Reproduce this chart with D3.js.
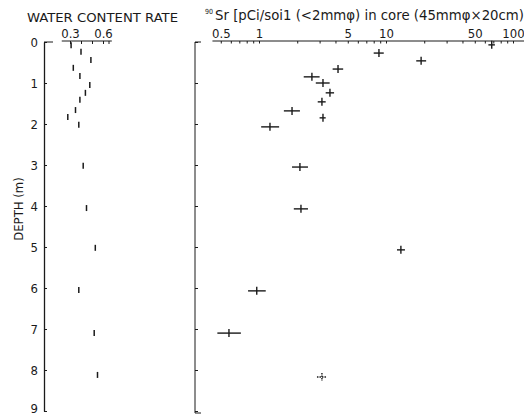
<!DOCTYPE html>
<html>
<head>
<meta charset="utf-8">
<script src="https://cdn.jsdelivr.net/npm/d3@7"></script>
<style>
  body { margin: 0; background: #fff; }
  svg text { font-family: "DejaVu Sans", sans-serif; font-stretch: condensed; fill: #1a1a1a; }
</style>
</head>
<body>
<div id="main"></div>
<script>
const WIDTH = 524, HEIGHT = 416

// water content rate by depth (m)
const waterDepth = [0.08, 0.24, 0.44, 0.63, 0.83, 1.05, 1.24, 1.41, 1.66, 1.83, 2.02, 3.02, 4.05, 5.02, 6.05, 7.1, 8.12]
const waterRate = [0.31, 0.40, 0.49, 0.33, 0.39, 0.48, 0.44, 0.39, 0.35, 0.28, 0.38, 0.42, 0.45, 0.53, 0.38, 0.52, 0.55]

// 90Sr in core (pCi/g soil), with the horizontal range of each cross
const srDepth = [0.07, 0.27, 0.46, 0.66, 0.85, 1.0, 1.24, 1.46, 1.68, 1.85, 2.07, 3.05, 4.07, 5.07, 6.07, 7.1, 8.17]
const srValue = [68, 8.8, 18.9, 4.19, 2.61, 3.19, 3.62, 3.13, 1.82, 3.19, 1.22, 2.10, 2.14, 13.1, 0.96, 0.58, 3.13]
const srLow = [64, 8.0, 17.3, 3.8, 2.25, 2.8, 3.35, 2.9, 1.57, 3.0, 1.04, 1.82, 1.88, 12.2, 0.82, 0.47, 2.86]
const srHigh = [72, 9.6, 20.7, 4.6, 3.0, 3.6, 3.9, 3.35, 2.1, 3.35, 1.44, 2.43, 2.43, 14.1, 1.13, 0.72, 3.43]

const depthTicks = [0, 1, 2, 3, 4, 5, 6, 7, 8, 9]
const waterTicks = [0.3, 0.6]
const waterMinor = [0.3, 0.4, 0.5, 0.6, 0.65]
const srTicks = [0.5, 1, 5, 10, 50, 100]

const svg = d3.select('#main').append('svg').attr('width', WIDTH).attr('height', HEIGHT)

const y = d3.scaleLinear().domain([0, 9]).range([42, 411])
const xWater = d3.scaleLinear().domain([0.3, 0.6]).range([70, 103])
const xSr = d3.scaleLog().domain([1, 100]).range([259, 513])

const ink = '#1a1a1a'

function clean(g) {
  g.selectAll('path, line').attr('stroke', ink)
  g.selectAll('text').attr('fill', ink).attr('font-size', 13)
}

// ---- left panel: depth axis
svg.append('g').attr('transform', 'translate(44,0)')
  .call(d3.axisRight(y).tickValues(depthTicks).tickSize(3).tickSizeOuter(0).tickFormat(''))
  .call(clean)
  .select('.domain').attr('stroke-width', 1.3)

svg.append('g').attr('transform', 'translate(44,0)')
  .call(d3.axisLeft(y).tickValues(depthTicks).tickSize(0).tickPadding(6))
  .call(clean)
  .call(g => g.select('.domain').remove())
  .call(g => g.selectAll('.tick text').filter(d => d === 9).attr('dy', '0.1em'))

svg.append('line').attr('x1', 44).attr('x2', 53).attr('y1', y(0)).attr('y2', y(0)).attr('stroke', ink)

svg.append('text')
  .attr('transform', 'translate(23,' + 209 + ') rotate(-90)')
  .attr('text-anchor', 'middle').attr('font-size', 13)
  .text('DEPTH (m)')

// water content axis on top
svg.append('g').attr('transform', 'translate(0,' + (y(0) - 1) + ')')
  .call(d3.axisTop(xWater).tickValues(waterTicks).tickSize(0).tickPadding(3).tickFormat(d3.format('.1f')))
  .call(clean)
  .select('.domain').attr('d', 'M' + xWater(0.225) + ',0H' + xWater(0.68))

svg.append('g').attr('transform', 'translate(0,' + (y(0) - 1) + ')')
  .call(d3.axisBottom(xWater).tickValues(waterMinor).tickSize(3).tickFormat(''))
  .call(clean)
  .call(g => g.select('.domain').remove())

svg.append('text').attr('x', 27).attr('y', 22)
  .attr('font-size', 13).attr('textLength', 151).attr('lengthAdjust', 'spacingAndGlyphs')
  .text('WATER CONTENT RATE')

svg.append('g').selectAll('line').data(waterDepth).join('line')
  .attr('x1', (d, i) => xWater(waterRate[i]))
  .attr('x2', (d, i) => xWater(waterRate[i]))
  .attr('y1', d => y(d) - 3)
  .attr('y2', d => y(d) + 3)
  .attr('stroke', ink).attr('stroke-width', 1.5)

// ---- right panel: 90Sr
svg.append('g').attr('transform', 'translate(195,0)')
  .call(d3.axisRight(y).tickValues(depthTicks).tickSize(3).tickSizeOuter(0).tickFormat(''))
  .call(clean)
  .select('.domain').attr('d', 'M0,' + y(0) + 'V413')

svg.append('line').attr('x1', 195).attr('x2', 201).attr('y1', y(0)).attr('y2', y(0)).attr('stroke', ink)
svg.append('line').attr('x1', 195).attr('x2', 201).attr('y1', 413).attr('y2', 413).attr('stroke', ink)

svg.append('g').attr('transform', 'translate(0,' + (y(0) - 1) + ')')
  .call(d3.axisTop(xSr).tickValues(srTicks).tickSize(0).tickPadding(3).tickFormat(d3.format('')))
  .call(clean)
  .select('.domain').attr('d', 'M' + xSr(0.43) + ',0H' + WIDTH)

svg.append('g').attr('transform', 'translate(0,' + (y(0) - 1) + ')')
  .call(d3.axisBottom(xSr).tickValues(xSr.copy().domain([0.43, 120]).ticks()).tickSize(2.5).tickFormat(''))
  .call(clean)
  .call(g => g.select('.domain').remove())

const title = svg.append('text').attr('x', 205).attr('y', 20).attr('font-size', 14)
title.append('tspan').attr('font-size', 7).attr('dy', -6).text('90')
title.append('tspan').attr('dy', 6).attr('dx', 2)
  .attr('textLength', 309).attr('lengthAdjust', 'spacingAndGlyphs')
  .text('Sr [pCi/soi1 (<2mmφ) in core (45mmφ×20cm)')

const cross = svg.append('g').selectAll('g').data(srDepth).join('g')
  .attr('stroke', ink).attr('stroke-width', 1.4)
  .attr('stroke-dasharray', (d, i) => i === srDepth.length - 1 ? '1.5,1' : null)

cross.append('line')
  .attr('x1', (d, i) => xSr(srLow[i]))
  .attr('x2', (d, i) => xSr(srHigh[i]))
  .attr('y1', d => y(d)).attr('y2', d => y(d))

cross.append('line')
  .attr('x1', (d, i) => xSr(srValue[i]))
  .attr('x2', (d, i) => xSr(srValue[i]))
  .attr('y1', d => y(d) - 4).attr('y2', d => y(d) + 4)
</script>
</body>
</html>
